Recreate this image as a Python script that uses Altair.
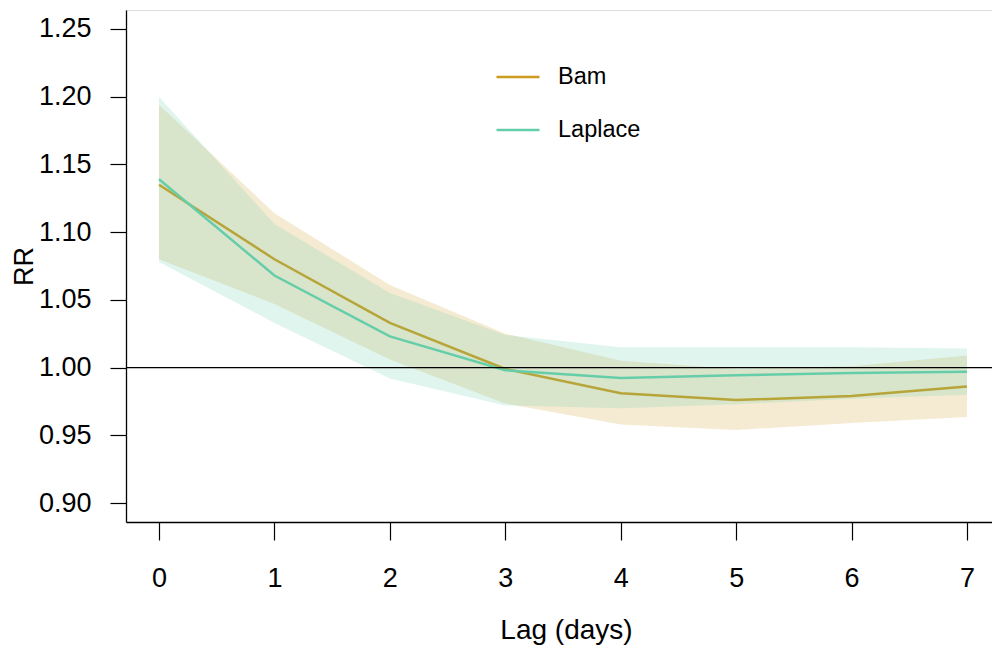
import altair as alt
import pandas as pd

lags = [0, 1, 2, 3, 4, 5, 6, 7]
bam_est = [1.135, 1.080, 1.033, 0.999, 0.981, 0.976, 0.979, 0.986]
bam_lo = [1.080, 1.047, 1.006, 0.9735, 0.958, 0.954, 0.959, 0.9635]
bam_hi = [1.194, 1.114, 1.061, 1.025, 1.005, 0.999, 1.001, 1.009]
lap_est = [1.139, 1.068, 1.023, 0.998, 0.9924, 0.9944, 0.996, 0.997]
lap_lo = [1.078, 1.033, 0.992, 0.972, 0.970, 0.973, 0.977, 0.980]
lap_hi = [1.200, 1.106, 1.055, 1.024, 1.015, 1.015, 1.015, 1.014]
series = ["Bam", "Laplace"]
colors = ["#CD9B1D", "#66CDAA"]
y_ticks = [0.90, 0.95, 1.00, 1.05, 1.10, 1.15, 1.20, 1.25]

rows = []
for name, est, lo, hi in [("Bam", bam_est, bam_lo, bam_hi), ("Laplace", lap_est, lap_lo, lap_hi)]:
    for i, l in enumerate(lags):
        rows.append({"series": name, "lag": l, "est": est[i], "lo": lo[i], "hi": hi[i]})
df = pd.DataFrame(rows)

FONT = "Liberation Sans"

xs = alt.Scale(domain=[-0.286, 7.2165], nice=False, zero=False)
ys = alt.Scale(domain=[0.886, 1.264], nice=False, zero=False)
cs = alt.Scale(domain=series, range=colors)

xaxis = alt.Axis(values=lags, format="d", title="Lag (days)", grid=False, tickSize=18, tickColor="black",
                 domainColor="black", domainWidth=1.3, tickWidth=1.2,
                 labelFontSize=27, labelFont=FONT, labelColor="black", labelAngle=0,
                 labelBaseline="alphabetic", labelPadding=46, labelFlush=False,
                 titleFontSize=28, titleFont=FONT, titleColor="black", titleFontWeight="normal",
                 titleX=440, titleY=116, titleBaseline="alphabetic", titleAnchor="middle")
yaxis = alt.Axis(values=y_ticks, format=".2f", title="RR", grid=False, tickSize=16, tickColor="black",
                 domainColor="black", domainWidth=1.3, tickWidth=1.2,
                 labelFontSize=27, labelFont=FONT, labelColor="black", labelPadding=19,
                 labelFlush=False,
                 titleFontSize=27, titleFont=FONT, titleColor="black", titleFontWeight="normal",
                 titleX=-88, titleY=256, titleAngle=-90, titleBaseline="bottom", titleAlign="center")

legend = alt.Legend(title=None, orient="none", legendX=369, legendY=44,
                    symbolType="stroke", symbolSize=1849, symbolStrokeWidth=2.5, symbolOpacity=1,
                    labelFontSize=23.5, labelFont=FONT, labelColor="black",
                    labelOffset=17, rowPadding=18, padding=0)

base = alt.Chart(df)


def band(name):
    return base.transform_filter(alt.datum.series == name).mark_area(opacity=0.2).encode(
        x=alt.X("lag:Q", scale=xs, axis=xaxis),
        y=alt.Y("lo:Q", scale=ys, axis=yaxis),
        y2="hi:Q",
        color=alt.Color("series:N", scale=cs, legend=legend),
    )


def line(name):
    return base.transform_filter(alt.datum.series == name).mark_line(strokeWidth=2.5).encode(
        x=alt.X("lag:Q", scale=xs),
        y=alt.Y("est:Q", scale=ys),
        color=alt.Color("series:N", scale=cs, legend=legend),
    )


ref = alt.Chart(pd.DataFrame({"v": [1.0]})).mark_rule(color="black", strokeWidth=1.4).encode(
    y=alt.Y("v:Q", scale=ys)
)

chart = alt.layer(band("Bam"), line("Bam"), band("Laplace"), line("Laplace"), ref).properties(
    width=866, height=512,
    padding={"left": 118, "top": 2, "right": 0, "bottom": 126},
    autosize="none",
).configure_view(stroke=None).configure(background="white")

chart.save("out.html", embed_options={"renderer": "svg", "actions": False})
